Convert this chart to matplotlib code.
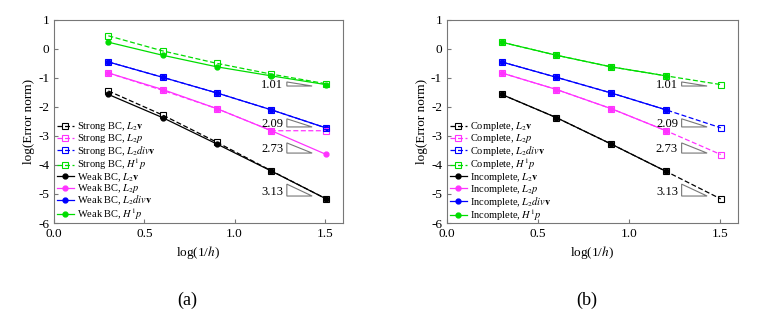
import numpy as np
import matplotlib
matplotlib.use('Agg')
import matplotlib.pyplot as plt
from matplotlib.patches import Polygon

plt.rcParams['font.family'] = 'Liberation Serif'
plt.rcParams['mathtext.fontset'] = 'stix'
plt.rcParams['axes.unicode_minus'] = False
plt.rcParams['font.size'] = 9

# log(1/h) for h = 1/2 ... 1/32
x = np.log10([2, 4, 8, 16, 32])

# panel (a): strong vs weak BC
strong_v = [-1.45, -2.28, -3.22, -4.20, -5.16]
strong_p = [-0.83, -1.43, -2.06, -2.82, -2.82]
strong_div = [-0.45, -0.98, -1.52, -2.10, -2.72]
strong_h1 = [0.45, -0.07, -0.50, -0.87, -1.20]
weak_v = [-1.57, -2.37, -3.28, -4.21, -5.16]
weak_p = [-0.83, -1.40, -2.06, -2.82, -3.63]
weak_div = [-0.45, -0.98, -1.52, -2.10, -2.72]
weak_h1 = [0.23, -0.22, -0.62, -0.93, -1.23]

# panel (b): complete vs incomplete
comp_v = [-1.57, -2.37, -3.28, -4.22, -5.17]
comp_p = [-0.83, -1.40, -2.06, -2.82, -3.64]
comp_div = [-0.45, -0.98, -1.52, -2.10, -2.72]
comp_h1 = [0.23, -0.22, -0.62, -0.93, -1.23]
inc_v = comp_v[:4]
inc_p = comp_p[:4]
inc_div = comp_div[:4]
inc_h1 = comp_h1[:4]

# slope triangles
rates = ['1.01', '2.09', '2.73', '3.13']
tri_top = [-1.14, -2.41, -3.24, -4.66]
tri_bot = [-1.28, -2.69, -3.59, -5.07]
tri_x0, tri_x1 = 1.29, 1.43

colors = ['k', '#ff33ff', '#0000ff', '#00dd00']
qty = [r'$L_2\mathbf{v}$', r'$L_2p$', r'$L_2div\mathbf{v}$', r'$H^1p$']

fig = plt.figure(figsize=(7.64, 3.15), dpi=100)
axa = fig.add_axes([0.0707, 0.292, 0.378, 0.645])
axb = fig.add_axes([0.585, 0.292, 0.381, 0.645])


def style(ax):
    ax.set_xlim(0, 1.6)
    ax.set_ylim(-6, 1)
    ax.set_xticks([0.0, 0.5, 1.0, 1.5])
    ax.set_xticklabels(['0.0', '0.5', '1.0', '1.5'])
    ax.set_yticks(range(-6, 2))
    ax.tick_params(direction='in', length=3, color='#777777', labelsize=9.5)
    for s in ax.spines.values():
        s.set_color('#777777')
        s.set_linewidth(0.8)
    ax.set_xlabel(r'log(1/$h$)', fontsize=9.5, labelpad=3)
    ax.set_ylabel('log(Error norm)', fontsize=9.5, labelpad=2)
    for r, t, b in zip(rates, tri_top, tri_bot):
        ax.add_patch(Polygon([[tri_x0, t], [tri_x0, b], [tri_x1, b]], closed=True,
                             fill=False, ec='#777777', lw=0.8))
        ax.text(tri_x0 - 0.02, (t + b) / 2 - 0.05, r, ha='right', va='center', fontsize=9)


def legend(ax, handles):
    ax.legend(handles=handles, loc='upper left', bbox_to_anchor=(0.0, 0.52),
              frameon=False, fontsize=7.5, handlelength=1.6, handletextpad=0.3,
              labelspacing=-0.12, borderaxespad=0.2, borderpad=0.1)


dashed = dict(ls=(0, (4, 2)), lw=0.9, marker='s', ms=4.5, mfc='white', mew=0.8)
solid = dict(ls='-', lw=0.9, marker='o', ms=3.5)

# (a)
hs, hw = [], []
for c, q, yw in zip(colors, qty, [weak_v, weak_p, weak_div, weak_h1]):
    hw.append(axa.plot(x, yw, color=c, mec=c, label='Weak BC, ' + q, **solid)[0])
for c, q, ys in zip(colors, qty, [strong_v, strong_p, strong_div, strong_h1]):
    h = axa.plot(x, ys, color=c, mec=c, label='Strong BC, ' + q, **dashed)[0]
    h.set_markerfacecolor('none')
    hs.append(h)
style(axa)
legend(axa, hs + hw)

# (b)
hs, hw = [], []
for c, q, ys in zip(colors, qty, [comp_v, comp_p, comp_div, comp_h1]):
    h = axb.plot(x, ys, color=c, mec=c, label='Complete, ' + q, **dashed)[0]
    h.set_markerfacecolor('none')
    hs.append(h)
for c, q, yi in zip(colors, qty, [inc_v, inc_p, inc_div, inc_h1]):
    hw.append(axb.plot(x[:4], yi, color=c, mec=c, label='Incomplete, ' + q, **solid)[0])
style(axb)
legend(axb, hs + hw)

fig.text(0.245, 0.048, '(a)', ha='center', va='center', fontsize=13)
fig.text(0.768, 0.048, '(b)', ha='center', va='center', fontsize=13)

fig.savefig('out.png', dpi=100)
